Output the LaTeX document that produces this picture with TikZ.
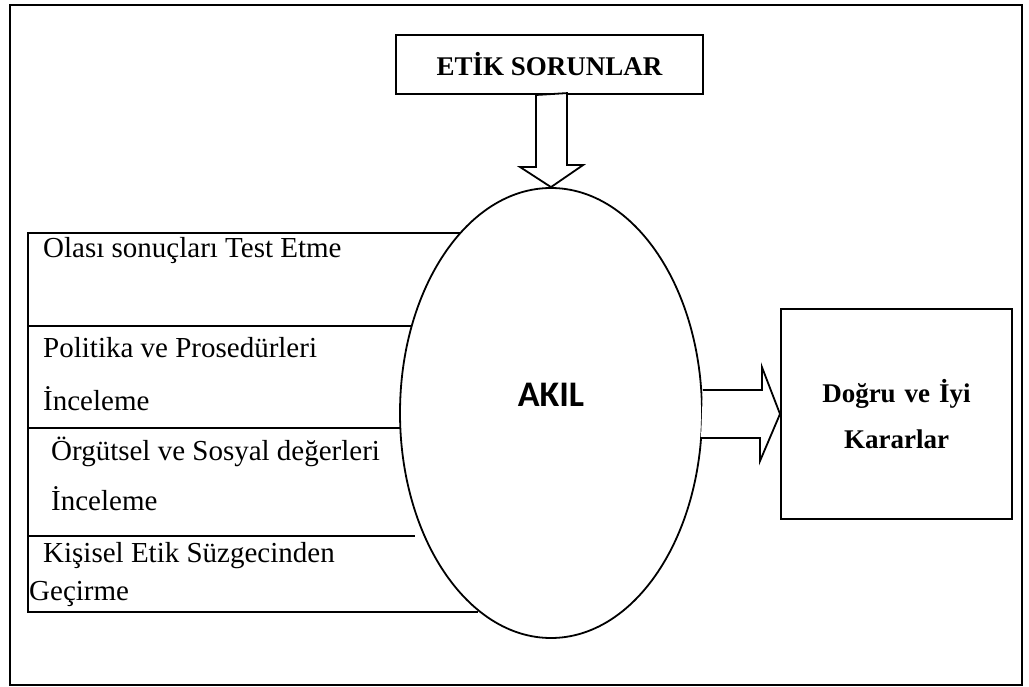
\documentclass[tikz,border=0pt]{standalone}
\usepackage{fontspec}
\setmainfont{Liberation Serif}
\newfontfamily\akilfont{Carlito}
\usetikzlibrary{calc}
\usetikzlibrary{shapes,arrows}
\usetikzlibrary{positioning}
\tikzstyle{bx}=[rectangle, draw, line width=2pt, align=center, inner sep=0pt, font=\bfseries\fontsize{27}{46}\selectfont]
\tikzstyle{lbl}=[anchor=base west, inner sep=0pt, font=\fontsize{29}{34}\selectfont]
\tikzstyle{tbl}=[line width=1.8pt]
\tikzstyle{barrow}=[draw, line width=1.8pt, fill=white, line join=miter]

\begin{document}
\begin{tikzpicture}[x=1pt, y=-1pt]
\useasboundingbox (0,0) rectangle (1029,687);
\draw[line width=2.4pt] (10,5) rectangle (1022,685);
% left table
\draw[tbl] (462,233) -- (28,233) -- (28,612) -- (478,612);
\draw[tbl] (28,326) -- (415,326);
\draw[tbl] (28,428) -- (400,428);
\draw[tbl] (28,536) -- (415,536);
\node[lbl] (t1) at (43,258) {Olası sonuçları Test Etme};
\node[lbl] (t2) at (43,358) {Politika ve Prosedürleri};
\node[lbl] (t3) at (43,410) {İnceleme};
\node[lbl] (t4) at (51,460) {Örgütsel ve Sosyal değerleri};
\node[lbl] (t5) at (51,510) {İnceleme};
\node[lbl] (t6) at (43,562) {Kişisel Etik Süzgecinden};
\node[lbl] (t7) at (29,600) {Geçirme};

\node[bx, minimum width=307, minimum height=59] (etik) at (549.5,64.5) {ETİK SORUNLAR};
\node[ellipse, draw, fill=white, line width=1.8pt, minimum width=302, minimum height=450, inner sep=0pt] (akil) at (551,413) {};
\node[font=\akilfont\bfseries\fontsize{36}{40}\selectfont, inner sep=0pt] (akiltxt) at ($(akil.center)+(0,-18)$) {AKIL};
\node[bx, minimum width=231, minimum height=209, text width=220] (dogru) at (896.5,414) {Doğru ve İyi\\Kararlar};

% block arrows
\coordinate (dtop) at (akil.north |- etik.south);
\draw[barrow] ($(dtop)+(-15,0)$) -- ++(0,72) -- ++(-16,0) -- (akil.north)
  -- ++(32,-22) -- ++(-16,0) -- ++(0,-72) -- cycle;
\draw[barrow] ($(akil.east)+(0,-23)$) -- ++(59,0) -- ++(0,-23) -- (dogru.west)
  -- ++(-20,47) -- ++(0,-23) -- ++(-59,0);
\end{tikzpicture}
\end{document}
